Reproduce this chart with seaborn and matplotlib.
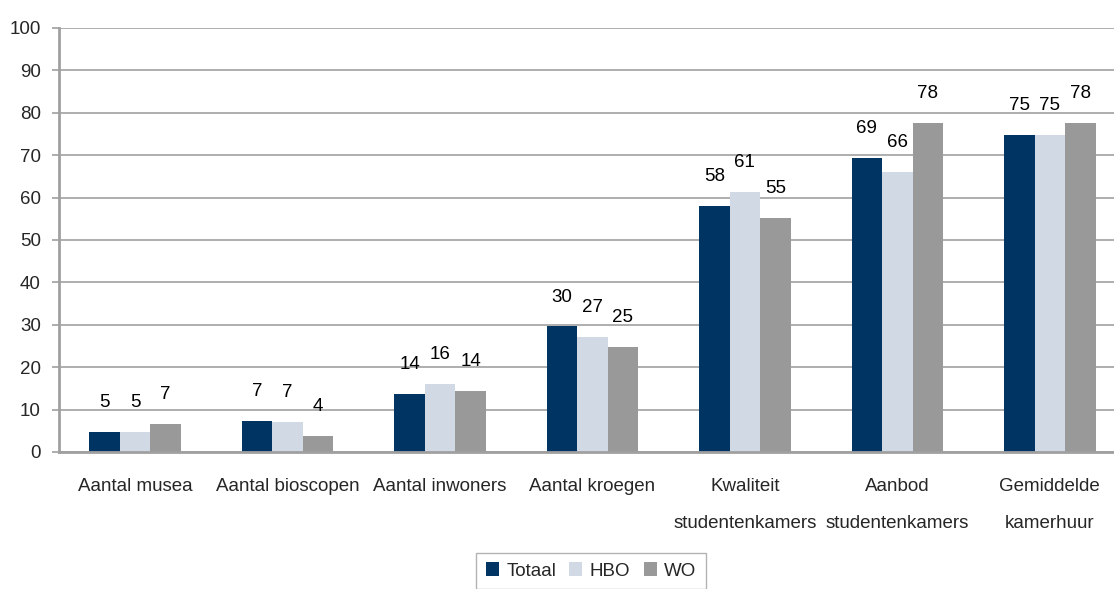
import matplotlib
matplotlib.use("Agg")
import matplotlib.pyplot as plt
from matplotlib import font_manager
import seaborn as sns
import pandas as pd

# data
categorieen = ["Aantal musea", "Aantal bioscopen", "Aantal inwoners", "Aantal kroegen",
               "Kwaliteit\nstudentenkamers", "Aanbod\nstudentenkamers", "Gemiddelde\nkamerhuur"]
groepen = ["Totaal", "HBO", "WO"]
totaal = [4.7, 7.4, 13.7, 29.6, 58.0, 69.4, 74.8]
hbo = [4.7, 7.1, 16.0, 27.2, 61.3, 66.0, 74.8]
wo = [6.6, 3.8, 14.4, 24.8, 55.2, 77.7, 77.7]
kleuren = ["#003462", "#d1d9e4", "#999999"]

df = pd.DataFrame({
    "categorie": categorieen * 3,
    "groep": [g for g in groepen for _ in categorieen],
    "waarde": totaal + hbo + wo,
})

sns.set_theme(style="white")
namen = {f.name for f in font_manager.fontManager.ttflist}
if "Liberation Sans Narrow" in namen:
    plt.rcParams["font.family"] = ["Liberation Sans Narrow", "DejaVu Sans"]
    fs = 14.5
else:
    plt.rcParams["font.family"] = ["Liberation Sans", "DejaVu Sans"]
    fs = 13.5

fig = plt.figure(figsize=(11.14, 5.89), dpi=100)
ax = fig.add_axes([59 / 1114, 137 / 589, 1067 / 1114, 424 / 589])

sns.barplot(data=df, x="categorie", y="waarde", hue="groep", palette=kleuren,
            width=0.6, saturation=1, ax=ax, errorbar=None, legend=True,
            linewidth=0, edgecolor="none")

for cont in ax.containers:
    ax.bar_label(cont, labels=[f"{v:.0f}" for v in cont.datavalues],
                 padding=15, fontsize=fs, color="black")

ax.set_ylim(0, 100)
ax.set_xlim(-0.5, 6.5)
ax.set_yticks(range(0, 101, 10))
ax.set_xticks(range(len(categorieen)))
ax.set_xticklabels([])
# categorie-labels als tekst, zodat de regelafstand blijft staan
for i, lab in enumerate(categorieen):
    ax.annotate(lab, xy=(i, 0), xycoords=ax.get_xaxis_transform(),
                xytext=(0, -18.5), textcoords="offset points",
                ha="center", va="top", fontsize=fs, linespacing=2.55)

ax.yaxis.grid(True, color="#a8a8a8", linewidth=1.3)
ax.set_axisbelow(True)
ax.set_xlabel("")
ax.set_ylabel("")
for s in ["top", "right"]:
    ax.spines[s].set_visible(False)
ax.spines["left"].set_color("#a0a0a0")
ax.spines["left"].set_linewidth(2)
ax.spines["bottom"].set_color("#a0a0a0")
ax.spines["bottom"].set_linewidth(2)
ax.tick_params(axis="y", length=5, width=1.2, color="#a0a0a0", labelsize=fs, pad=8, left=True)
ax.tick_params(axis="x", length=0)

ax.legend(loc="upper center", bbox_to_anchor=(591 / 1114, 1 - 553 / 589),
          bbox_transform=fig.transFigure, ncol=3, fontsize=fs, frameon=True,
          fancybox=False, edgecolor="#a0a0a0", handlelength=0.7, handleheight=0.7,
          handletextpad=0.4, columnspacing=0.7, borderpad=0.5, borderaxespad=0)
ax.get_legend().get_frame().set_linewidth(1)

fig.savefig("out.png", dpi=100)
